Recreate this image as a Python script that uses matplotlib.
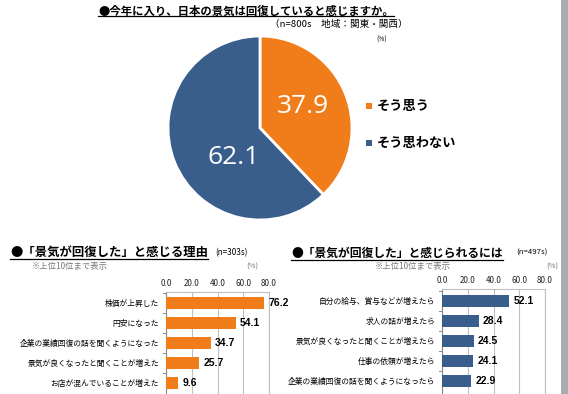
import matplotlib
matplotlib.use("Agg")
import matplotlib.pyplot as plt
from matplotlib.patches import Rectangle
from matplotlib.lines import Line2D

plt.rcParams['font.family'] = ['Noto Sans CJK JP', 'DejaVu Sans']

# ---- data ----
pie_labels = ["そう思う", "そう思わない"]
pie_values = [37.9, 62.1]

left_cats = ["株価が上昇した", "円安になった", "企業の業績回復の話を聞くようになった",
             "景気が良くなったと聞くことが増えた", "お店が混んでいることが増えた"]
left_vals = [76.2, 54.1, 34.7, 25.7, 9.6]

right_cats = ["自分の給与、賞与などが増えたら", "求人の話が増えたら", "景気が良くなったと聞くことが増えたら",
              "仕事の依頼が増えたら", "企業の業績回復の話を聞くようになったら"]
right_vals = [52.1, 28.4, 24.5, 24.1, 22.9]

xticks = [0, 20, 40, 60, 80]
xtick_labels = ["0.0", "20.0", "40.0", "60.0", "80.0"]

ORANGE = '#F07D1A'
BLUE = '#3A5E8C'
colors = [ORANGE, BLUE]

W, H = 568, 394
fig = plt.figure(figsize=(W / 100, H / 100), dpi=100)
fig.patch.set_facecolor('white')

def fx(px):
    return px / W

def fy(py):
    return 1 - py / H

def underline_text(t, y_px, lw=0.9):
    fig.canvas.draw()
    bb = t.get_window_extent()
    fig.add_artist(Line2D([bb.x0 / W, bb.x1 / W], [fy(y_px), fy(y_px)],
                          transform=fig.transFigure, color='black', lw=lw))

# ---- pie ----
cx, cy, r = 260, 128, 92
axp = fig.add_axes([fx(cx - r), fy(cy + r), 2 * r / W, 2 * r / H])
wedges, _ = axp.pie(pie_values, colors=colors, startangle=90, counterclock=False,
                    wedgeprops=dict(edgecolor='white', linewidth=2))
axp.set_xlim(-1, 1)
axp.set_ylim(-1, 1)
axp.set_aspect('auto')
axp.axis('off')
axp.text(0.47, 0.23, f"{pie_values[0]:.1f}", color='white', fontsize=19,
         ha='center', va='center', family=['Open Sans', 'DejaVu Sans'])
axp.text(-0.29, -0.32, f"{pie_values[1]:.1f}", color='white', fontsize=19,
         ha='center', va='center', family=['Open Sans', 'DejaVu Sans'])

# legend
for i, (lab, col) in enumerate(zip(pie_labels, colors)):
    ly = [106, 143][i]
    fig.add_artist(Rectangle((fx(366), fy(ly + 3)), 6 / W, 6 / H, transform=fig.transFigure,
                             facecolor=col, edgecolor='none'))
    fig.text(fx(377), fy(ly), lab, fontsize=9.5, fontweight='bold', ha='left', va='center')

# titles
t1 = fig.text(fx(98), fy(11), "●今年に入り、日本の景気は回復していると感じますか。",
              fontsize=8.2, fontweight='bold', ha='left', va='center')
fig.text(fx(270), fy(24), "（n=800s　地域：関東・関西）", fontsize=6.9, ha='left', va='center')
fig.text(fx(376), fy(40), "(%)", fontsize=4.8, ha='left', va='center')

# ---- bar charts ----
def bar_chart(x0, x1, top, first_center, vals, cats, col):
    spacing = 20.0
    lim_top = -(first_center - top) / spacing
    ax_h = 110
    lim_bot = lim_top + ax_h / spacing
    ax = fig.add_axes([fx(x0), fy(top + ax_h), (x1 - x0) / W, ax_h / H])
    ypos = list(range(len(vals)))
    ax.barh(ypos, vals, height=0.63, color=col, zorder=3)
    ax.set_xlim(0, 80)
    ax.set_ylim(lim_bot, lim_top)
    ax.set_xticks(xticks)
    ax.set_xticklabels(xtick_labels, fontsize=5.8, color='#222222')
    ax.xaxis.tick_top()
    ax.tick_params(axis='x', length=0, pad=3)
    ax.set_yticks(ypos)
    ax.set_yticklabels(cats, fontsize=5.6)
    ax.tick_params(axis='y', length=0, pad=5)
    for b in [i + 0.5 for i in ypos[:-1]] + [-0.5]:
        ax.plot([-2.5, 0], [b, b], color='#888888', lw=0.7, clip_on=False, zorder=4)
    ax.grid(axis='x', color='#bfbfbf', lw=0.8, zorder=0)
    ax.spines['bottom'].set_visible(False)
    ax.spines['top'].set_color('#bfbfbf')
    ax.spines['right'].set_color('#bfbfbf')
    ax.spines['left'].set_color('#888888')
    for y, v in zip(ypos, vals):
        ax.text(v + 3.5, y, f"{v:.1f}", fontsize=7.5, fontweight='bold', va='center', ha='left',
                family=['Liberation Sans', 'DejaVu Sans'])
    return ax

bar_chart(166, 269, 292, 303, left_vals, left_cats, ORANGE)
bar_chart(442, 545, 289, 301, right_vals, right_cats, BLUE)

t2 = fig.text(fx(10), fy(252), "●「景気が回復した」と感じる理由", fontsize=8.9, fontweight='bold',
              ha='left', va='center')
fig.text(fx(215), fy(253), "(n=303s)", fontsize=5.8, ha='left', va='center')
fig.text(fx(32), fy(267), "※上位10位まで表示", fontsize=6, color='#777777', ha='left', va='center')
fig.text(fx(246), fy(267), "(%)", fontsize=5.5, color='#777777', ha='left', va='center')

t3 = fig.text(fx(291), fy(253), "●「景気が回復した」と感じられるには", fontsize=8.5, fontweight='bold',
              ha='left', va='center')
fig.text(fx(516), fy(253), "(n=497s)", fontsize=5.6, ha='left', va='center')
fig.text(fx(375), fy(267), "※上位10位まで表示", fontsize=6, color='#777777', ha='left', va='center')
fig.text(fx(546), fy(267), "(%)", fontsize=5.5, color='#777777', ha='left', va='center')

# right gray border
fig.add_artist(Rectangle((fx(561), 0), 7 / W, 1, transform=fig.transFigure,
                         facecolor='#a9acb0', edgecolor='none'))

underline_text(t1, 16)
underline_text(t2, 259)
underline_text(t3, 260)

fig.savefig("out.png", dpi=100)
